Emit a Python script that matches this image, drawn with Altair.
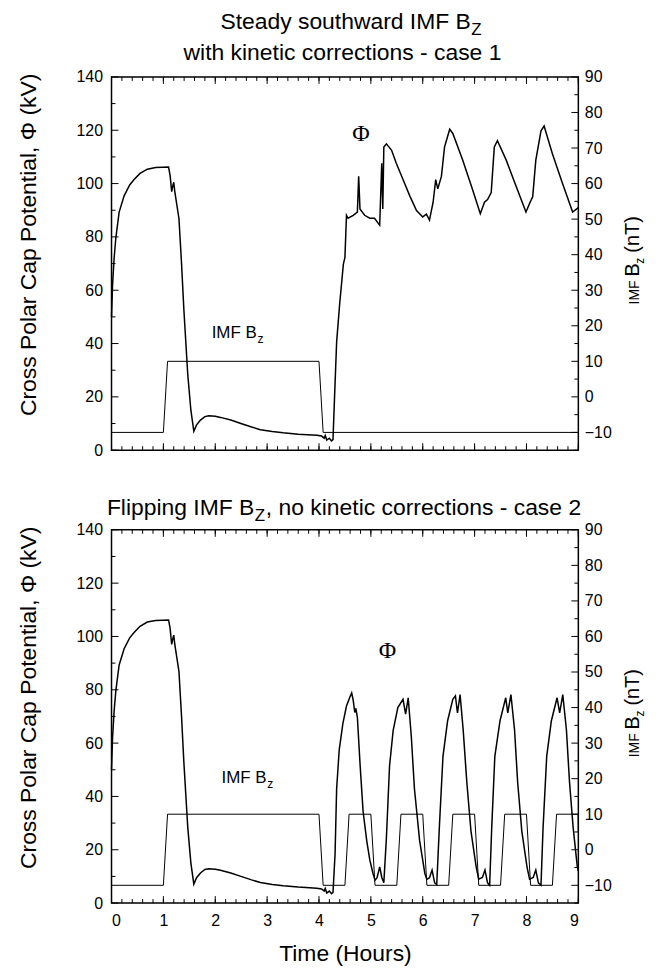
import altair as alt
import pandas as pd

# ---------------- data ----------------
# common start (0 - 4.3 h), identical in both runs
start_t = [0.0, 0.02, 0.05, 0.083, 0.147, 0.243, 0.35, 0.435, 0.55, 0.69, 0.85, 1.10,
           1.13, 1.16, 1.18, 1.20, 1.22, 1.30, 1.35, 1.395, 1.47, 1.53, 1.587, 1.64,
           1.715, 1.80, 1.875, 2.0, 2.1, 2.3, 2.48, 2.7, 2.87, 3.1, 3.31, 3.6, 3.96,
           4.05, 4.10, 4.12, 4.15, 4.20, 4.24, 4.27]
start_phi = [50, 62, 72, 79.6, 89.3, 95.4, 99.5, 101.5, 103.8, 105.4, 106.0, 106.2,
             103, 97, 99, 100.5, 97, 86.9, 70, 52.7, 28.4, 15, 7.1, 9.5,
             11.3, 12.6, 12.9, 12.7, 12.3, 11.3, 10.1, 8.7, 7.7, 7.0, 6.5, 6.0, 5.6,
             5.3, 4.5, 5.5, 3.8, 4.5, 3.5, 4.0]

# case 1: steady southward IMF Bz, with kinetic corrections
case1_t = [4.30, 4.34, 4.40, 4.47, 4.50, 4.53, 4.56, 4.66, 4.74, 4.765, 4.79, 4.88,
           4.98, 5.07, 5.17, 5.21, 5.23, 5.25, 5.30, 5.40, 5.49, 5.62, 5.75, 5.88,
           6.00, 6.07, 6.13, 6.20, 6.25, 6.29, 6.36, 6.42, 6.52, 6.58, 6.77, 6.96,
           7.11, 7.19, 7.25, 7.32, 7.38, 7.44, 7.61, 7.80, 7.99, 8.07, 8.12, 8.18,
           8.28, 8.34, 8.50, 8.69, 8.89, 9.0]
case1_phi = [20, 40.6, 55.2, 69.8, 72.3, 88.1, 87, 88.1, 89.3, 102.7, 90.5, 88.1,
             87, 87, 84.4, 107.6, 90.5, 113.7, 114.9, 112.5, 107.6, 101.5, 95.4, 89.9,
             87.5, 88.5, 86.3, 93, 101.5, 98, 102.7, 113.7, 120.4, 118.8, 108.8, 97.8,
             88.7, 93, 94, 96.6, 113.7, 116.1, 108.8, 99, 89.3, 93, 95, 108.8,
             119.8, 121.6, 111.2, 100.3, 89.3, 91]

# case 2: flipping IMF Bz, no kinetic corrections
case2_t = [4.31, 4.34, 4.39, 4.46, 4.53, 4.60, 4.63, 4.66, 4.69, 4.71, 4.74, 4.79,
           4.85, 4.92, 4.98, 5.04, 5.08, 5.12, 5.17, 5.21, 5.25, 5.30, 5.36, 5.43,
           5.52, 5.62, 5.67, 5.72, 5.78, 5.84, 5.94, 6.04, 6.08, 6.13, 6.18, 6.23,
           6.27, 6.32, 6.39, 6.48, 6.58, 6.63, 6.67, 6.72, 6.78, 6.85, 6.93, 7.03,
           7.08, 7.15, 7.20, 7.25, 7.29, 7.33, 7.39, 7.49, 7.60, 7.64, 7.70, 7.77,
           7.83, 7.91, 8.01, 8.06, 8.13, 8.18, 8.23, 8.28, 8.32, 8.39, 8.48, 8.59,
           8.64, 8.70, 8.77, 8.83, 8.90, 8.98, 9.0]
case2_phi = [18.5, 42.9, 57.5, 67.3, 73.9, 77.5, 78.8, 76, 71.5, 73, 69.7, 52.6,
             34.4, 23.4, 16.1, 11.2, 8.6, 9.5, 13.6, 9.7, 7.6, 24.6, 51.4, 64.8,
             73.3, 76.4, 70.9, 77.0, 62.4, 42.9, 23.4, 11.2, 8.9, 9.5, 12.4, 7.6,
             7.0, 28.3, 55, 68.4, 76.4, 77.7, 71.3, 78.2, 64.9, 45.3, 27, 13.6,
             9, 9.6, 12.4, 7.6, 6.7, 28.3, 55, 68.4, 77, 71.3, 78.2, 65,
             45.3, 27, 13.6, 9, 9.6, 12.4, 7.6, 6.7, 28.3, 55, 68.4, 77,
             71.3, 78.2, 65, 45.3, 28.3, 13.6, 12]

bz1_t = [0.0, 1.0, 1.08, 4.0, 4.08, 9.0]
bz1_v = [-10, -10, 10, 10, -10, -10]
bz2_t = [0.0, 1.0, 1.08, 4.0, 4.08, 4.5, 4.58, 5.0, 5.08, 5.5, 5.58, 6.0, 6.08,
         6.5, 6.58, 7.0, 7.08, 7.5, 7.58, 8.0, 8.08, 8.5, 8.58, 8.995, 9.0]
bz2_v = [-10, -10, 10, 10, -10, -10, 10, 10, -10, -10, 10, 10, -10,
         -10, 10, 10, -10, -10, 10, 10, -10, -10, 10, 10, 5]

hour_major = [0, 1, 2, 3, 4, 5, 6, 7, 8, 9]
hour_minor = [round(0.2 * i, 1) for i in range(46)]
phi_major = [0, 20, 40, 60, 80, 100, 120, 140]
phi_minor = [10, 30, 50, 70, 90, 110, 130]
bz_major = [-10, 0, 10, 20, 30, 40, 50, 60, 70, 80, 90]
bz_minor = [-15, -5, 5, 15, 25, 35, 45, 55, 65, 75, 85]

# ---------------- layout / style ----------------
W, H = 469, 375
FONT = "Liberation Sans"
SERIF = "Liberation Serif"
MAJ, MIN = 7, 4
TFS = 23  # title font size


def xs():
    return alt.Scale(domain=[0, 9], nice=False, zero=False)


def ps():
    return alt.Scale(domain=[0, 140], nice=False, zero=False)


def bs():
    return alt.Scale(domain=[-15, 90], nice=False, zero=False)


def txt(text, x, y, size, align="left", font=FONT, **kw):
    return alt.Chart(pd.DataFrame({"a": [0]})).mark_text(
        text=text, font=font, fontSize=size, align=align, baseline="alphabetic",
        color="black", **kw).encode(x=x, y=y)


def panel(phi_t, phi_v, bz_t, bz_v, title_marks, show_x, phi_pos, imf_pos):
    if show_x:
        xaxis = alt.Axis(values=hour_major, format="d", title="Time (Hours)",
                         ticks=False, domain=False, grid=False,
                         labelPadding=10, titlePadding=14)
    else:
        xaxis = None

    phi_df = pd.DataFrame({"t": phi_t, "phi": phi_v, "i": list(range(len(phi_t)))})
    phi_line = alt.Chart(phi_df).mark_line(color="black", strokeWidth=1.5).encode(
        x=alt.X("t:Q", scale=xs(), axis=xaxis),
        y=alt.Y("phi:Q", scale=ps(),
                axis=alt.Axis(values=phi_major, title=None,
                              ticks=False, domain=False, grid=False,
                              labelPadding=9)),
        order="i:Q")

    bz_df = pd.DataFrame({"t": bz_t, "bz": bz_v, "i": list(range(len(bz_t)))})
    bz_line = alt.Chart(bz_df).mark_line(color="black", strokeWidth=1).encode(
        x=alt.X("t:Q", scale=xs(), axis=None),
        y=alt.Y("bz:Q", scale=bs(),
                axis=alt.Axis(orient="right", values=bz_major, title=None,
                              ticks=False, domain=False, grid=False,
                              labelPadding=6)),
        order="i:Q")

    def xrule(vals, y0, y1):
        return alt.Chart(pd.DataFrame({"t": vals})).mark_rule(color="black", strokeWidth=1).encode(
            x=alt.X("t:Q", scale=xs(), axis=None), y=alt.value(y0), y2=alt.value(y1))

    def prule(vals, x0, x1):
        return alt.Chart(pd.DataFrame({"phi": vals})).mark_rule(color="black", strokeWidth=1).encode(
            y=alt.Y("phi:Q", scale=ps(), axis=None), x=alt.value(x0), x2=alt.value(x1))

    def brule(vals, x0, x1):
        return alt.Chart(pd.DataFrame({"bz": vals})).mark_rule(color="black", strokeWidth=1).encode(
            y=alt.Y("bz:Q", scale=bs(), axis=None), x=alt.value(x0), x2=alt.value(x1))

    phi_sym = txt("Φ", alt.XDatum(phi_pos[0], scale=xs(), axis=None),
                  alt.YDatum(phi_pos[1], scale=ps(), axis=None), 24, align="center", font=SERIF)
    imf1 = txt("IMF B", alt.XDatum(imf_pos[0], scale=xs(), axis=None),
               alt.YDatum(imf_pos[1], scale=ps(), axis=None), 17)
    imf2 = txt("z", alt.XDatum(imf_pos[0], scale=xs(), axis=None),
               alt.YDatum(imf_pos[1], scale=ps(), axis=None), 12, dx=46, dy=5)

    # left axis title (as text so that it can sit where the original has it)
    lt = txt("Cross Polar Cap Potential, Φ (kV)", alt.value(-76),
             alt.YDatum(77, scale=ps(), axis=None), TFS, align="center", angle=270)

    # right axis title with subscript
    ty = alt.YDatum(26, scale=bs(), axis=None)
    tx = alt.value(W + 61)
    rt = [
        txt("IMF", tx, ty, 14, angle=270),
        txt("B", tx, ty, 20, angle=270, dx=28),
        txt("z", tx, ty, 12, angle=270, dx=41, dy=5),
        txt("(nT)", tx, ty, 20, angle=270, dx=52),
    ]

    return alt.layer(
        phi_line, bz_line,
        xrule(hour_minor, H, H - MIN), xrule(hour_major, H, H - MAJ),
        xrule(hour_minor, 0, MIN), xrule(hour_major, 0, MAJ),
        prule(phi_minor, 0, MIN), prule(phi_major, 0, MAJ),
        brule(bz_minor, W - MIN, W), brule(bz_major, W - MAJ, W),
        phi_sym, imf1, imf2, lt, *rt, *title_marks
    ).resolve_scale(y="independent").resolve_axis(x="independent").properties(width=W, height=H)


top_titles = [
    txt("Steady southward IMF B", alt.value(361), alt.value(-48), TFS, align="right"),
    txt("Z", alt.value(361.5), alt.value(-42), 17),
    txt("with kinetic corrections - case 1", alt.value(232), alt.value(-17), TFS, align="center"),
]
bot_titles = [
    txt("Flipping IMF B", alt.value(143.5), alt.value(-15), TFS, align="right"),
    txt("Z", alt.value(144), alt.value(-9), 17),
    txt(", no kinetic corrections - case 2", alt.value(155), alt.value(-15), TFS),
]

top = panel(start_t + case1_t, start_phi + case1_phi, bz1_t, bz1_v, top_titles, False,
            (4.81, 116), (1.93, 42))
bottom = panel(start_t + case2_t, start_phi + case2_phi, bz2_t, bz2_v, bot_titles, True,
               (5.32, 92), (2.12, 45))

chart = alt.vconcat(top, bottom, spacing=80, bounds="flush").properties(
    padding={"left": 9, "top": 0, "right": 5, "bottom": 5}
).configure_view(stroke="black", strokeWidth=1.5).configure_axis(
    labelFont=FONT, labelFontSize=16, labelColor="black",
    titleFont=FONT, titleFontSize=TFS, titleColor="black", titleFontWeight="normal")

chart.save("out.html", embed_options={"renderer": "svg", "actions": False})
